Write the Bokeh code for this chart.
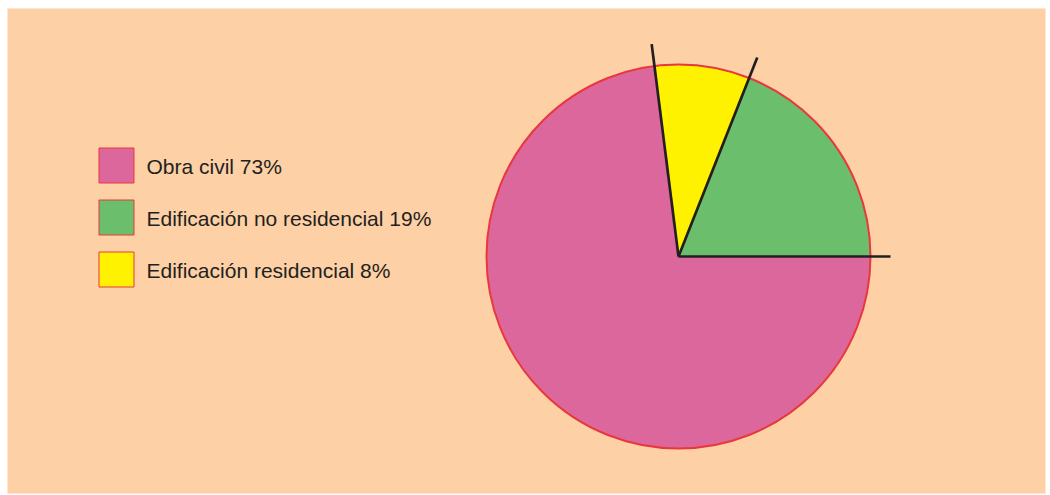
import math
from bokeh.plotting import figure
from bokeh.models import Range1d, ColumnDataSource
from bokeh.core.properties import value
from bokeh.embed import file_html
from bokeh.resources import INLINE

# ---- data ----
categories = ["Obra civil", "Edificación no residencial", "Edificación residencial"]
shares = [73, 19, 8]
colors = ["#DB679C", "#6BBF6C", "#FFF200"]
labels = [f"{c} {s}%" for c, s in zip(categories, shares)]
# order of slices going counter-clockwise from 3 o'clock
pie_order = [1, 2, 0]

W, H = 1050, 495
BG = "#FDD0A5"
INK = "#231F20"

p = figure(width=W, height=H, output_backend="svg", toolbar_location=None,
           x_range=Range1d(7, 1045), y_range=Range1d(2, 487),
           x_axis_location=None, y_axis_location=None,
           min_border_left=7, min_border_right=5, min_border_top=8, min_border_bottom=2,
           background_fill_color=BG, border_fill_color="white",
           outline_line_color=None)
p.grid.visible = False

total = float(sum(shares))
starts, ends, cols = [], [], []
cum = 0.0
for i in pie_order:
    a0 = 2 * math.pi * cum / total
    cum += shares[i]
    a1 = 2 * math.pi * cum / total
    starts.append(a0)
    ends.append(a1)
    cols.append(colors[i])

cx, cy, R = 678, 239, 192
src = ColumnDataSource(dict(start=starts, end=ends, color=cols))
p.wedge(x=cx, y=cy, radius=R, start_angle="start", end_angle="end",
        fill_color="color", line_color=None, source=src)
p.circle(x=cx, y=cy, radius=R, fill_color=None, line_color="#E8383D", line_width=2)

# separator rays at slice boundaries
bounds = starts
p.ray(x=[cx] * len(bounds), y=[cy] * len(bounds), angle=bounds,
      length=[212, 214, 214], line_color=INK, line_width=2.7)

# legend
n = len(categories)
sq_y = [330 - 52 * i for i in range(n)]
p.rect(x=[116] * n, y=sq_y, width=35, height=35, fill_color=colors,
       line_color="#E8383D", line_width=1)
p.text(x=[146] * n, y=[y - 1 for y in sq_y], text=labels,
       text_font=value("Liberation Sans"), text_font_size="21px",
       text_color=INK, text_baseline="alphabetic", text_align="left")

open("out.html", "w").write(file_html(p, INLINE))
